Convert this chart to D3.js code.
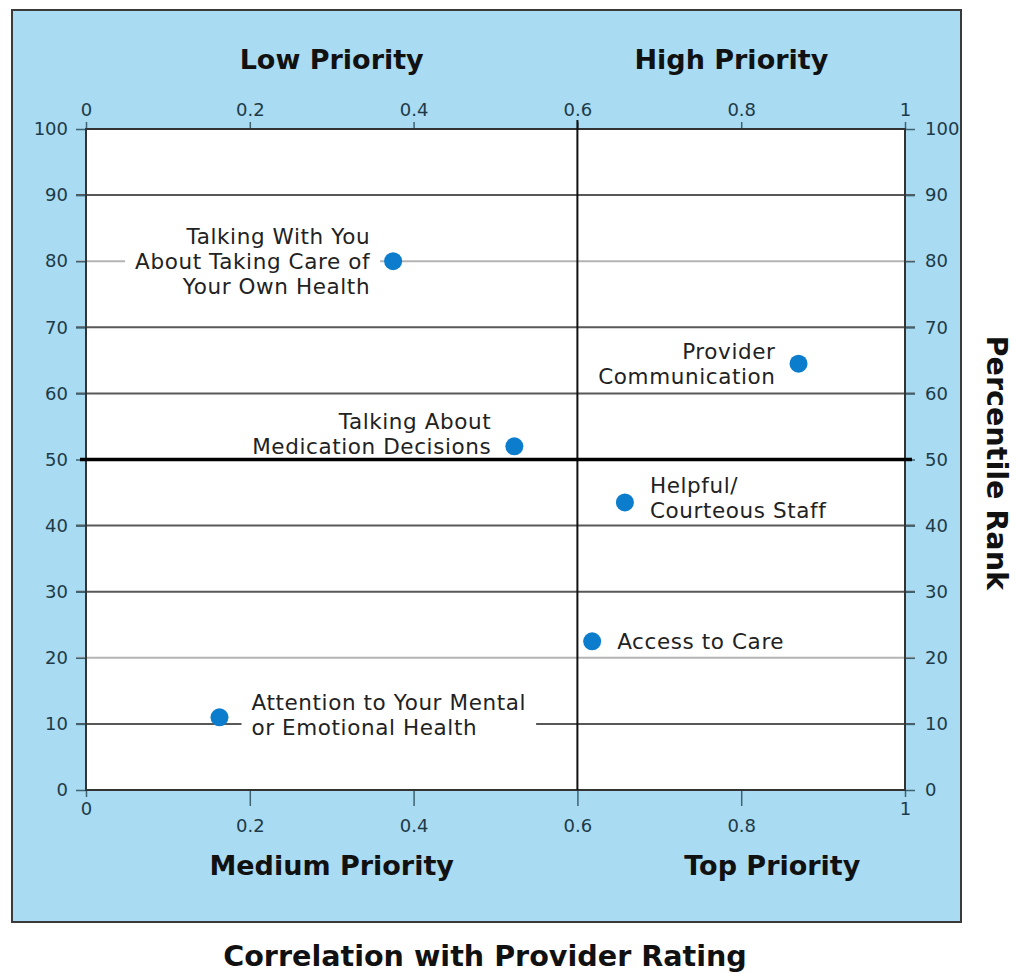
<!DOCTYPE html>
<html>
<head>
<meta charset="utf-8">
<script src="https://cdn.jsdelivr.net/npm/d3@7"></script>
<style>
  body { margin: 0; background: #fff; }
  text { font-family: "DejaVu Sans", Verdana, sans-serif; }
</style>
</head>
<body>
<script>
// chart data
var measures = [
  "Talking With You\nAbout Taking Care of\nYour Own Health",
  "Provider\nCommunication",
  "Talking About\nMedication Decisions",
  "Helpful/\nCourteous Staff",
  "Access to Care",
  "Attention to Your Mental\nor Emotional Health"
];
var correlation = [0.375, 0.87, 0.523, 0.658, 0.618, 0.163];
var percentile = [80, 64.5, 52, 43.5, 22.5, 11];
var labelSide = ["left", "left", "left", "right", "right", "right"];

var xTicks = [0, 0.2, 0.4, 0.6, 0.8, 1];
var yTicks = [0, 10, 20, 30, 40, 50, 60, 70, 80, 90, 100];
var quadrants = ["Low Priority", "High Priority", "Medium Priority", "Top Priority"];
var xTitle = "Correlation with Provider Rating";
var yTitle = "Percentile Rank";

window.onload = drawChart();

function drawChart(){
  var width = 1017, height = 974;

  var svg = d3.select("body").append("svg")
    .attr("width", width)
    .attr("height", height);

  //scales
  var x = d3.scaleLinear().domain([0, 1]).range([86, 905]);
  var y = d3.scaleLinear().domain([0, 100]).range([790, 129]);

  //blue panel
  svg.append("rect")
    .attr("x", 12).attr("y", 10)
    .attr("width", 949).attr("height", 912)
    .attr("fill", "#a9dbf2")
    .attr("stroke", "#3a3a3a")
    .attr("stroke-width", 2);

  //white plot area
  svg.append("rect")
    .attr("x", x(0)).attr("y", y(100))
    .attr("width", x(1) - x(0)).attr("height", y(0) - y(100))
    .attr("fill", "#fff");

  //gridlines (light ones at 20 and 80)
  var lightLines = [20, 80];
  svg.selectAll(".grid")
    .data(yTicks.filter(function(d){ return d > 0 && d < 100 && d != 50; }))
    .enter()
    .append("line")
    .attr("class", "grid")
    .attr("x1", x(0) - 10).attr("x2", x(1) + 10)
    .attr("y1", function(d){ return y(d); })
    .attr("y2", function(d){ return y(d); })
    .attr("stroke", function(d){ return lightLines.indexOf(d) >= 0 ? "#b4b4b4" : "#585858"; })
    .attr("stroke-width", 2);

  //axes
  var tickColor = "#3d6373", labelColor = "#1d3a48";
  function styleAxis(g){
    g.select(".domain").remove();
    g.selectAll(".tick line").attr("stroke", tickColor).attr("stroke-width", 1.5);
    g.selectAll(".tick text")
      .attr("fill", labelColor)
      .style("font-size", "18px")
      .style("font-family", "'DejaVu Sans', Verdana, sans-serif");
  }

  svg.append("g")
    .attr("transform", "translate(" + x(0) + ",0)")
    .call(d3.axisLeft(y).tickValues(yTicks).tickSize(10).tickPadding(8))
    .call(styleAxis);

  svg.append("g")
    .attr("transform", "translate(" + x(1) + ",0)")
    .call(d3.axisRight(y).tickValues(yTicks).tickSize(10).tickPadding(10))
    .call(styleAxis);

  var fmt = function(d){ return d === 0 || d === 1 ? String(d) : d3.format(".1f")(d); };

  svg.append("g")
    .attr("transform", "translate(0," + y(100) + ")")
    .call(d3.axisTop(x).tickValues(xTicks).tickFormat(fmt).tickSize(7).tickPadding(6))
    .call(styleAxis);

  var bottom = svg.append("g")
    .attr("transform", "translate(0," + y(0) + ")")
    .call(d3.axisBottom(x).tickValues(xTicks).tickFormat(fmt).tickSize(16).tickPadding(13))
    .call(styleAxis);
  //end labels sit tight under the corner
  bottom.selectAll(".tick")
    .filter(function(d){ return d === 0 || d === 1; })
    .each(function(){
      d3.select(this).select("line").attr("y2", 7);
      d3.select(this).select("text").attr("y", 12);
    });

  //quadrant labels
  var qPos = [[0.3, 60], [0.788, 60], [0.3, 866], [0.838, 866]];
  svg.selectAll(".quad")
    .data(quadrants)
    .enter()
    .append("text")
    .attr("class", "quad")
    .attr("x", function(d, i){ return x(qPos[i][0]); })
    .attr("y", function(d, i){ return qPos[i][1]; })
    .attr("dy", "0.35em")
    .attr("text-anchor", "middle")
    .style("font-size", "27px")
    .style("font-weight", "bold")
    .attr("fill", "#111")
    .text(function(d){ return d; });

  //axis titles
  svg.append("text")
    .attr("x", 485).attr("y", 956)
    .attr("dy", "0.35em")
    .attr("text-anchor", "middle")
    .style("font-size", "28.6px")
    .style("font-weight", "bold")
    .attr("fill", "#111")
    .text(xTitle);

  svg.append("text")
    .attr("transform", "translate(997," + y(49.5) + ") rotate(90)")
    .attr("dy", "0.35em")
    .attr("text-anchor", "middle")
    .style("font-size", "28.6px")
    .style("font-weight", "bold")
    .attr("fill", "#111")
    .text(yTitle);

  //point labels with white backing
  var points = measures.map(function(m, i){
    return { name: m, cx: x(correlation[i]), cy: y(percentile[i]), side: labelSide[i] };
  });
  //a few labels sit a little off their point
  var nudge = {
    "Talking About\nMedication Decisions": [0, -12],
    "Helpful/\nCourteous Staff": [0, -4],
    "Attention to Your Mental\nor Emotional Health": [7, -2]
  };
  var lineH = 25;

  var labels = svg.selectAll(".lab")
    .data(points)
    .enter()
    .append("g")
    .attr("class", "lab");

  labels.each(function(d){
    var g = d3.select(this);
    var lines = d.name.split("\n");
    var n = nudge[d.name] || [0, 0];
    var top = d.cy - (lines.length - 1) * lineH / 2 + n[1];
    var tx = (d.side == "left" ? d.cx - 23 : d.cx + 25) + n[0];
    var bg = g.append("rect").attr("fill", "#fff");
    var t = g.append("text")
      .attr("text-anchor", d.side == "left" ? "end" : "start")
      .style("font-size", "21.5px")
      .style("letter-spacing", "0.6px")
      .attr("fill", "#222");
    lines.forEach(function(l, k){
      t.append("tspan")
        .attr("x", tx)
        .attr("y", top + k * lineH)
        .attr("dy", "0.35em")
        .text(l);
    });
    var b = t.node().getBBox();
    bg.attr("x", b.x - 10).attr("y", b.y + 1)
      .attr("width", b.width + 20).attr("height", b.height - 3);
  });

  //plot frame
  svg.append("rect")
    .attr("x", x(0)).attr("y", y(100))
    .attr("width", x(1) - x(0)).attr("height", y(0) - y(100))
    .attr("fill", "none")
    .attr("stroke", "#333")
    .attr("stroke-width", 2);

  //quadrant dividers
  svg.append("line")
    .attr("x1", x(0.6)).attr("x2", x(0.6))
    .attr("y1", y(100) - 9).attr("y2", y(0))
    .attr("stroke", "#111").attr("stroke-width", 2);
  svg.append("line")
    .attr("x1", x(0) - 6).attr("x2", x(1) + 7)
    .attr("y1", y(50)).attr("y2", y(50))
    .attr("stroke", "#000").attr("stroke-width", 3.5);

  //points
  svg.selectAll(".dot")
    .data(points)
    .enter()
    .append("circle")
    .attr("class", "dot")
    .attr("cx", function(d){ return d.cx; })
    .attr("cy", function(d){ return d.cy; })
    .attr("r", 9)
    .attr("fill", "#0b7dcc");
}
</script>
</body>
</html>
